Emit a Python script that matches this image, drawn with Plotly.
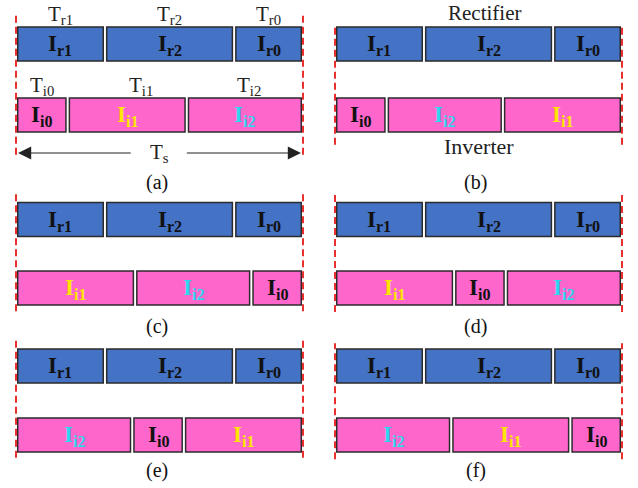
import plotly.graph_objects as go

# ---------------- data ----------------
rect_keys = ["r1", "r2", "r0"]
rect_durations = [0.31, 0.45, 0.24]          # fraction of Ts

inv_keys = ["i0", "i1", "i2"]
inv_durations = [0.18, 0.415, 0.405]         # fraction of Ts
inv_text_colors = ["#111111", "#FFE600", "#2FD6EE"]

panel_names = ["(a)", "(b)", "(c)", "(d)", "(e)", "(f)"]
panel_orders = [
    ["i0", "i1", "i2"],
    ["i0", "i2", "i1"],
    ["i1", "i2", "i0"],
    ["i1", "i0", "i2"],
    ["i2", "i0", "i1"],
    ["i2", "i1", "i0"],
]

# ---------------- layout / style ----------------
W, H = 638, 488
FONT = "Liberation Serif"
BLUE = "#4472C4"
PINK = "#FF66CC"
EDGE = "#2b2b2b"
RED = "#E8302E"
LBL = 23

col_x0 = [16, 335]
span_px = 287
row_rect_c = [44, 219.5, 366]
row_inv_c = [115, 288, 435]
caption_y_px = [182, 326, 470]
bar_h_px = 34
pad = 0.006
dash_ext = [(-0.56, 1.41), (-0.42, 1.27), (-0.34, 1.40),
            (-0.35, 1.36), (-0.33, 1.42), (-0.35, 1.33)]

fig = go.Figure()
shapes, annotations = [], []
layout_axes = {}


def starts_of(durs):
    s, out = 0.0, []
    for d in durs:
        out.append(s)
        s += d
    return out


for k, name in enumerate(panel_names):
    row, col = k // 2, k % 2
    idx = k + 1
    xa = "x" if idx == 1 else f"x{idx}"
    ya = "y" if idx == 1 else f"y{idx}"
    xkey = "xaxis" if idx == 1 else f"xaxis{idx}"
    ykey = "yaxis" if idx == 1 else f"yaxis{idx}"

    # x axis: 0..1 = Ts mapped to pixels
    x0 = col_x0[col]
    lo = max(0, x0 - 0.06 * span_px)
    hi = min(W, x0 + 1.06 * span_px)
    layout_axes[xkey] = dict(domain=[lo / W, hi / W],
                             range=[(lo - x0) / span_px, (hi - x0) / span_px],
                             visible=False, fixedrange=True)
    # y axis: inverter row = 0, rectifier row = 1
    s = row_inv_c[row] - row_rect_c[row]
    inv_p = H - row_inv_c[row]
    ylo = max(0, inv_p - 0.8 * s)
    yhi = min(H, inv_p + 1.8 * s)
    layout_axes[ykey] = dict(domain=[ylo / H, yhi / H],
                             range=[(ylo - inv_p) / s, (yhi - inv_p) / s],
                             visible=False, fixedrange=True)
    bw = bar_h_px / s

    # rectifier bar
    rs = starts_of(rect_durations)
    fig.add_trace(go.Bar(
        orientation="h", y=[1] * 3, x=[d - 2 * pad for d in rect_durations],
        base=[st + pad for st in rs], width=bw,
        marker=dict(color=BLUE, line=dict(color=EDGE, width=1.5)),
        xaxis=xa, yaxis=ya, hoverinfo="skip", showlegend=False))
    for key, st, d in zip(rect_keys, rs, rect_durations):
        annotations.append(dict(xref=xa, yref=ya, x=st + d / 2, y=1,
                                xanchor="center", yanchor="middle",
                                text=f"<b>I<sub>{key}</sub></b>",
                                showarrow=False, yshift=-1,
                                font=dict(family=FONT, size=LBL, color="#111111")))

    # inverter bar
    order = panel_orders[k]
    durs = [inv_durations[inv_keys.index(o)] for o in order]
    cols = [inv_text_colors[inv_keys.index(o)] for o in order]
    ist = starts_of(durs)
    fig.add_trace(go.Bar(
        orientation="h", y=[0] * 3, x=[d - 2 * pad for d in durs],
        base=[st + pad for st in ist], width=bw,
        marker=dict(color=PINK, line=dict(color=EDGE, width=1.5)),
        xaxis=xa, yaxis=ya, hoverinfo="skip", showlegend=False))
    for o, st, d, c in zip(order, ist, durs, cols):
        annotations.append(dict(xref=xa, yref=ya, x=st + d / 2, y=0,
                                xanchor="center", yanchor="middle",
                                text=f"<b>I<sub>{o}</sub></b>",
                                showarrow=False, yshift=-1,
                                font=dict(family=FONT, size=LBL, color=c)))

    # red dashed boundaries at 0 and Ts
    yb, yt = dash_ext[k]
    for xv in (0, 1):
        shapes.append(dict(type="line", xref=xa, yref=ya, x0=xv, x1=xv,
                           y0=yb, y1=yt,
                           line=dict(color=RED, width=2, dash="7px,4px")))

    # caption
    annotations.append(dict(xref=xa, yref="paper", x=0.49,
                            y=(H - caption_y_px[row]) / H,
                            xanchor="center", yanchor="middle",
                            text=name, showarrow=False,
                            font=dict(family=FONT, size=20, color="#111111")))

    if k == 0:
        for key, st, d in zip(rect_keys, rs, rect_durations):
            annotations.append(dict(xref=xa, yref=ya, x=st + d / 2, y=1.41,
                                    xanchor="center", yanchor="middle",
                                    text=f"T<sub>{key}</sub>", showarrow=False,
                                    font=dict(family=FONT, size=21, color="#222")))
        shifts = [0, 14, 4]
        for o, st, d, sh in zip(order, ist, durs, shifts):
            annotations.append(dict(xref=xa, yref=ya, x=st + d / 2, y=0.41,
                                    xanchor="center", yanchor="middle",
                                    xshift=sh,
                                    text=f"T<sub>{o}</sub>", showarrow=False,
                                    font=dict(family=FONT, size=21, color="#222")))
        annotations.append(dict(xref=xa, yref=ya, x=0.5, y=-0.53,
                                xanchor="center", yanchor="middle",
                                text="T<sub>s</sub>", showarrow=False,
                                font=dict(family=FONT, size=21, color="#222")))
        for head, tail in ((0.007, 0.405), (0.993, 0.59)):
            annotations.append(dict(xref=xa, yref=ya, x=head, y=-0.535,
                                    axref=xa, ayref=ya, ax=tail, ay=-0.535,
                                    showarrow=True, arrowhead=2, arrowsize=2.2,
                                    arrowwidth=1.2, arrowcolor="#222", text=""))
    if k == 1:
        annotations.append(dict(xref=xa, yref=ya, x=0.52, y=1.44,
                                xanchor="center", yanchor="middle",
                                text="Rectifier", showarrow=False,
                                font=dict(family=FONT, size=21, color="#222")))
        annotations.append(dict(xref=xa, yref=ya, x=0.5, y=-0.45,
                                xanchor="center", yanchor="middle",
                                text="Inverter", showarrow=False,
                                font=dict(family=FONT, size=22, color="#222")))

fig.update_layout(
    width=W, height=H, margin=dict(l=0, r=0, t=0, b=0),
    paper_bgcolor="white", plot_bgcolor="rgba(0,0,0,0)",
    barmode="overlay", shapes=shapes, annotations=annotations,
    **layout_axes)

fig.write_html("out.html", config={"displayModeBar": False},
               post_script="document.body.style.margin='0';")
